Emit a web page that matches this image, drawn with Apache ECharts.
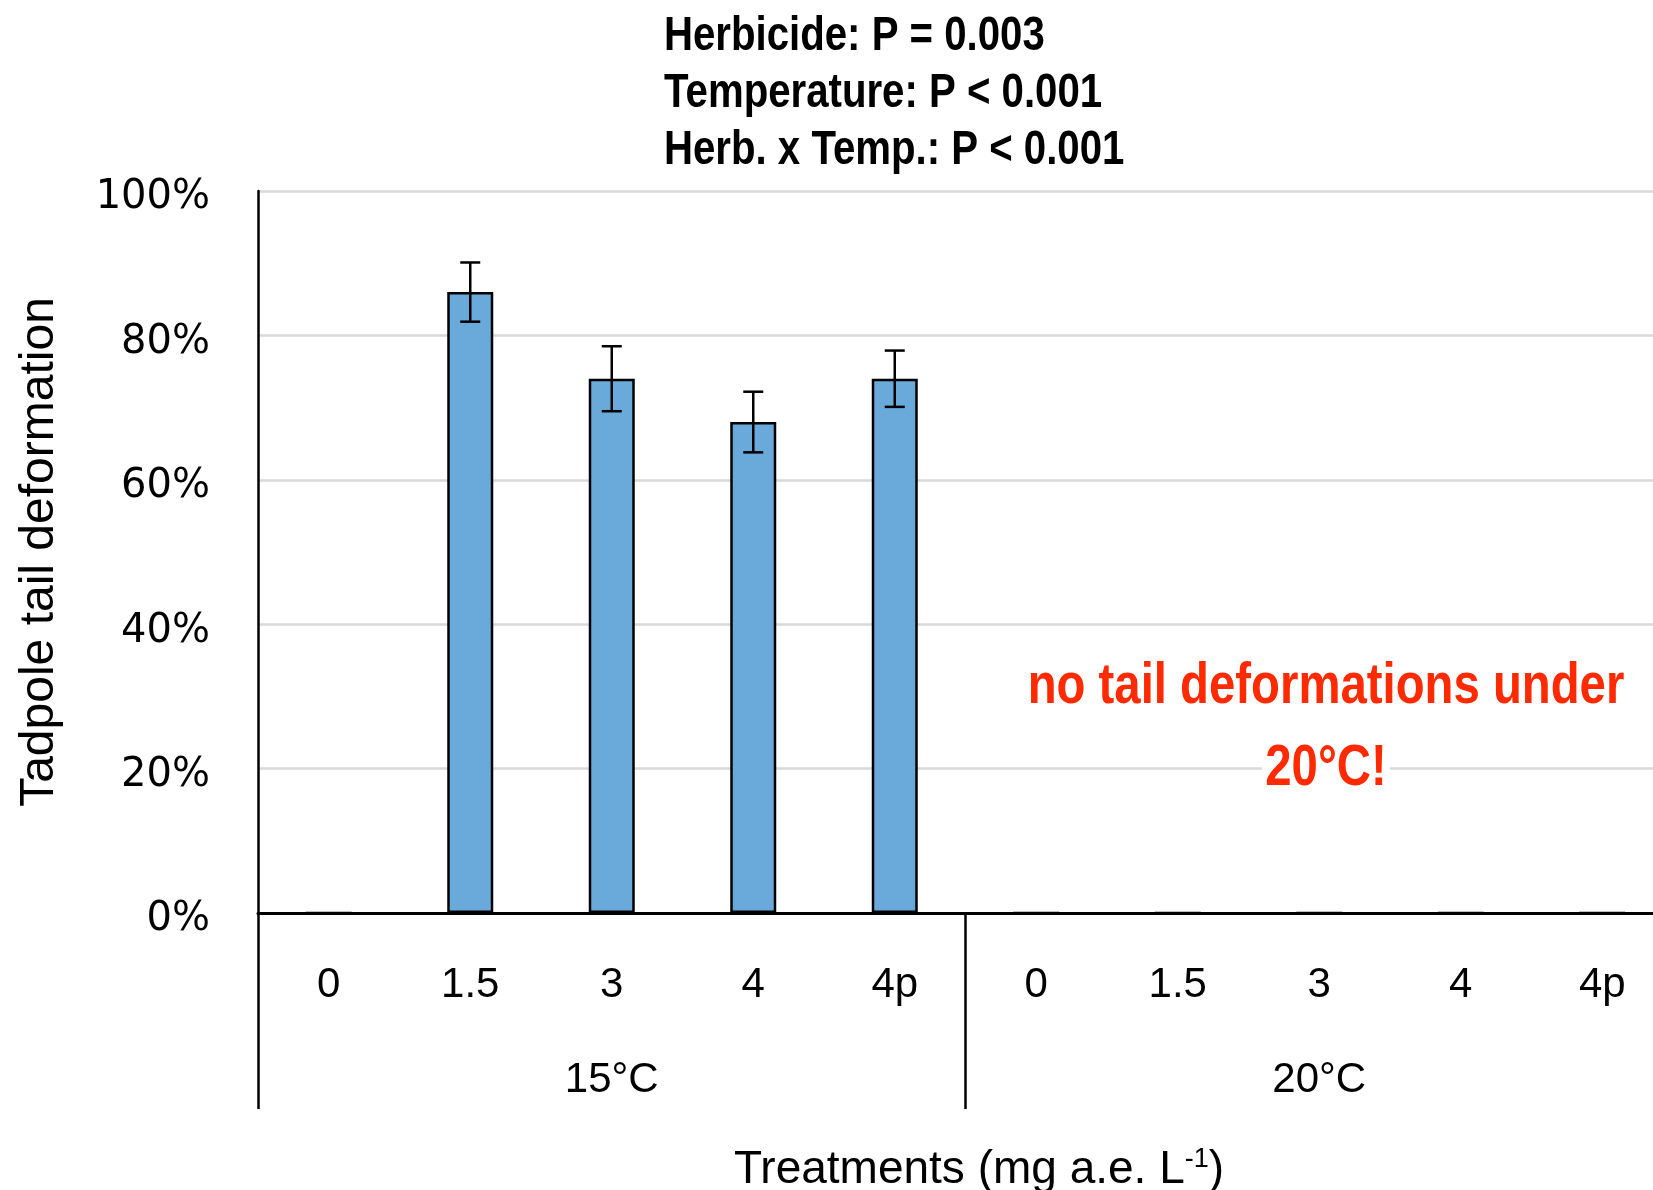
<!DOCTYPE html>
<html>
<head>
<meta charset="utf-8">
<script src="https://cdn.jsdelivr.net/npm/echarts@6/dist/echarts.min.js"></script>
<style>html,body{margin:0;padding:0;background:#fff;}#c{width:1653px;height:1190px;}</style>
</head>
<body>
<div id="c"></div>
<script>
const treatments = ['0','1.5','3','4','4p','0','1.5','3','4','4p'];
const temperatures = ['15°C','20°C'];
const deformation = [0, 86, 74, 68, 74, 0, 0, 0, 0, 0];
const stdErr = [0, 4.1, 4.5, 4.2, 3.9, 0, 0, 0, 0, 0];
const yTicks = [0, 20, 40, 60, 80, 100];
const statsLines = ['Herbicide: P = 0.003', 'Temperature: P < 0.001', 'Herb. x Temp.: P < 0.001'];
const noteLines = ['no tail deformations under', '20°C!'];

const chart = echarts.init(document.getElementById('c'), null, {renderer:'canvas'});
const sans = "'Liberation Sans',Arial,sans-serif";
const narrowFont = (size) => "bold " + size + "px 'Liberation Sans Narrow','Arial Narrow','Liberation Sans',Arial,sans-serif";

const graphics = [];
statsLines.forEach((t, k) => {
  graphics.push({type:'text', x:664, y:36 + k*57, scaleX:0.82, z:100,
    style:{text:t, x:0, y:0, font:narrowFont(49), fill:'#000', textAlign:'left', textVerticalAlign:'middle'}});
});
noteLines.forEach((t, k) => {
  graphics.push({type:'text', x:1326, y:687 + k*82, scaleX:0.83, z:100,
    style:{text:t, x:0, y:0, font:narrowFont(57), fill:'#ff2a00', textAlign:'center', textVerticalAlign:'middle',
           backgroundColor:'#fff', padding:[0,4,0,4]}});
});

const option = {
  backgroundColor:'#fff',
  animation:false,
  title:[
    {text: 'Treatments (mg a.e. L{sup|-1})', left:974, top:1141, textAlign:'center',
     textStyle:{fontFamily:sans, fontWeight:'normal', fontSize:46, color:'#000',
       rich:{sup:{fontSize:27, fontWeight:'normal', verticalAlign:'top', padding:[0,0,22,0], fontFamily:sans}}}}
  ],
  graphic: graphics,
  grid:{left:258, top:191, bottom:277, right:-20, containLabel:false, outerBoundsMode:'none'},
  xAxis:[
    {type:'category', data:treatments, position:'bottom',
     axisLine:{show:true, lineStyle:{color:'#000', width:3}},
     axisTick:{show:false},
     axisLabel:{fontFamily:sans, fontSize:42, color:'#000', margin:51}},
    {type:'category', data:temperatures, position:'bottom', offset:196,
     axisLine:{show:false},
     axisTick:{show:true, inside:true, length:196, lineStyle:{color:'#000', width:2.5}},
     axisLabel:{inside:true, fontFamily:sans, fontSize:42, color:'#000', margin:8}}
  ],
  yAxis:{type:'value', min:yTicks[0], max:yTicks[yTicks.length-1], interval:20,
    name:'Tadpole tail deformation', nameLocation:'middle', nameGap:194, nameRotate:90,
    nameTextStyle:{fontFamily:sans, fontSize:48, color:'#000'},
    axisLine:{show:true, lineStyle:{color:'#000', width:2.5}},
    axisTick:{show:false},
    axisLabel:{formatter:function(v){return '{a|' + v + '%}';}, margin:48,
      rich:{a:{fontFamily:"'DejaVu Sans',sans-serif", fontSize:40, color:'#000', padding:[14,0,0,0]}}},
    splitLine:{show:true, lineStyle:{color:'#d9d9d9', width:2.5}}
  },
  series:[
    {type:'bar', data:deformation, barWidth:46, xAxisIndex:0,
     itemStyle:{color:'#6aaadb', borderColor:'#000', borderWidth:2.5}},
    {type:'custom', xAxisIndex:0, data:deformation.map((v,i)=>[i, v, stdErr[i]]),
     renderItem:function(params, api){
       const i = api.value(0), v = api.value(1), e = api.value(2);
       if(!e) return null;
       const top = api.coord([i, v+e]);
       const bot = api.coord([i, v-e]);
       const hw = 10;
       const st = {stroke:'#000', lineWidth:2.5};
       return {type:'group', children:[
         {type:'line', shape:{x1:top[0], y1:top[1], x2:bot[0], y2:bot[1]}, style:st},
         {type:'line', shape:{x1:top[0]-hw, y1:top[1], x2:top[0]+hw, y2:top[1]}, style:st},
         {type:'line', shape:{x1:bot[0]-hw, y1:bot[1], x2:bot[0]+hw, y2:bot[1]}, style:st}
       ]};
     }, z:5}
  ]
};
chart.setOption(option);
</script>
</body>
</html>
